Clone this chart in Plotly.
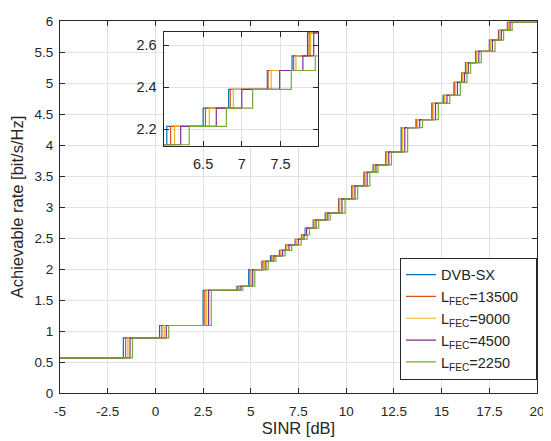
import plotly.graph_objects as go

# Achievable rate levels [bit/s/Hz] (shared by all curves)
levels = [0.568, 0.889, 1.089, 1.657, 1.722, 1.99, 2.125, 2.2125, 2.30, 2.39,
          2.48, 2.55, 2.66, 2.79, 2.90, 3.13, 3.34, 3.56, 3.68, 3.89,
          4.28, 4.41, 4.67, 4.80, 5.01, 5.16, 5.33, 5.51, 5.69, 5.85, 5.98]

# SINR switching thresholds [dB] per curve
thr_dvbsx = [-1.68, 0.22, 2.50, 4.27, 4.89, 5.58, 6.03, 6.50, 6.83, 7.33,
             7.65, 7.85, 8.27, 8.90, 9.60, 10.29, 10.93, 11.41, 12.07, 12.88,
             13.66, 14.49, 15.08, 15.65, 16.05, 16.25, 16.78, 17.50, 17.98, 18.45]
thr_13500 = [-1.56, 0.34, 2.59, 4.33, 4.95, 5.64, 6.08, 6.53, 6.85, 7.34,
             7.67, 7.87, 8.29, 8.92, 9.62, 10.31, 10.95, 11.43, 12.09, 12.90,
             13.68, 14.51, 15.10, 15.67, 16.07, 16.27, 16.80, 17.52, 18.00, 18.47]
thr_9000 = [-1.44, 0.46, 2.69, 4.40, 5.02, 5.71, 6.13, 6.58, 6.89, 7.38,
            7.70, 7.89, 8.33, 8.96, 9.67, 10.36, 11.00, 11.47, 12.13, 12.95,
            13.73, 14.56, 15.16, 15.72, 16.11, 16.31, 16.85, 17.56, 18.04, 18.51]
thr_4500 = [-1.33, 0.57, 2.79, 4.48, 5.10, 5.79, 6.21, 6.67, 7.00, 7.49,
            7.79, 7.93, 8.42, 9.04, 9.78, 10.46, 11.10, 11.56, 12.23, 13.07,
            13.85, 14.68, 15.28, 15.83, 16.20, 16.40, 16.95, 17.66, 18.13, 18.59]
thr_2250 = [-1.20, 0.70, 2.93, 4.58, 5.21, 5.91, 6.32, 6.80, 7.14, 7.64,
            7.95, 8.08, 8.56, 9.16, 9.94, 10.60, 11.24, 11.67, 12.37, 13.22,
            14.00, 14.83, 15.43, 15.98, 16.33, 16.52, 17.08, 17.80, 18.25, 18.70]

series_names = ["DVB-SX", "L<sub>FEC</sub>=13500\u00a0\u00a0\u00a0", "L<sub>FEC</sub>=9000",
                "L<sub>FEC</sub>=4500", "L<sub>FEC</sub>=2250"]
series_thr = [thr_dvbsx, thr_13500, thr_9000, thr_4500, thr_2250]
colors = ["#0072BD", "#D95319", "#EDB120", "#7E2F8E", "#77AC30"]

x_min, x_max = -5, 20

fig = go.Figure()
for i, (name, thr, col) in enumerate(zip(series_names, series_thr, colors)):
    xs = [x_min] + thr + [x_max]
    ys = levels + [levels[-1]]
    fig.add_trace(go.Scatter(x=xs, y=ys, mode="lines", line=dict(color=col, width=1.2, shape="hv"),
                             name=name, legendgroup=f"g{i}", xaxis="x", yaxis="y"))
for i, (name, thr, col) in enumerate(zip(series_names, series_thr, colors)):
    xs = [x_min] + thr + [x_max]
    ys = levels + [levels[-1]]
    fig.add_trace(go.Scatter(x=xs, y=ys, mode="lines", line=dict(color=col, width=1.2, shape="hv"),
                             name=name, legendgroup=f"g{i}", showlegend=False, xaxis="x2", yaxis="y2"))

axcol = "#262626"
gridcol = "#e2e2e2"
font = "Liberation Sans, Arial, sans-serif"

common = dict(showline=True, linecolor=axcol, linewidth=1, mirror="allticks",
              ticks="inside", ticklen=5, tickcolor=axcol, showgrid=True,
              gridcolor=gridcol, gridwidth=1, zeroline=False, ticklabeloverflow="allow")

fig.update_layout(
    width=543, height=433,
    margin=dict(l=52, r=9, t=6, b=45),
    paper_bgcolor="white", plot_bgcolor="white",
    font=dict(family=font, color=axcol, size=13.5),
    showlegend=True,
    xaxis=dict(domain=[0, 1], range=[-5, 20], tickvals=[-5, -2.5, 0, 2.5, 5, 7.5, 10, 12.5, 15, 17.5, 20],
               ticktext=["-5", "-2.5", "0", "2.5", "5", "7.5", "10", "12.5", "15", "17.5", "20"],
               title=dict(text="SINR [dB]", font=dict(size=16.5), standoff=4),
               tickfont=dict(size=13.5), ticklabelstandoff=6, **common),
    yaxis=dict(domain=[0, 1], range=[0, 6], tickvals=[0, 0.5, 1, 1.5, 2, 2.5, 3, 3.5, 4, 4.5, 5, 5.5, 6],
               ticktext=["0", "0.5", "1", "1.5", "2", "2.5", "3", "3.5", "4", "4.5", "5", "5.5", "6"],
               title=dict(text="Achievable rate [bit/s/Hz]", font=dict(size=16.5), standoff=8),
               tickfont=dict(size=13.5), ticklabelstandoff=3, **common),
    xaxis2=dict(domain=[0.219, 0.540], anchor="y2", range=[6.0, 7.98], tickvals=[6.5, 7, 7.5],
                ticktext=["6.5", "7", "7.5"], tickfont=dict(size=14.5), ticklabelstandoff=5, **common),
    yaxis2=dict(domain=[0.6646, 0.971], anchor="x2", range=[2.12, 2.665], tickvals=[2.2, 2.4, 2.6],
                ticktext=["2.2", "2.4", "2.6"], tickfont=dict(size=14.5), ticklabelstandoff=4, **common),
    legend=dict(x=1.0, y=0.036, xanchor="right", yanchor="bottom", bgcolor="white",
                bordercolor=axcol, borderwidth=1, font=dict(size=14.5), itemwidth=30,
                tracegroupgap=0),
)

fig.write_html("out.html")
